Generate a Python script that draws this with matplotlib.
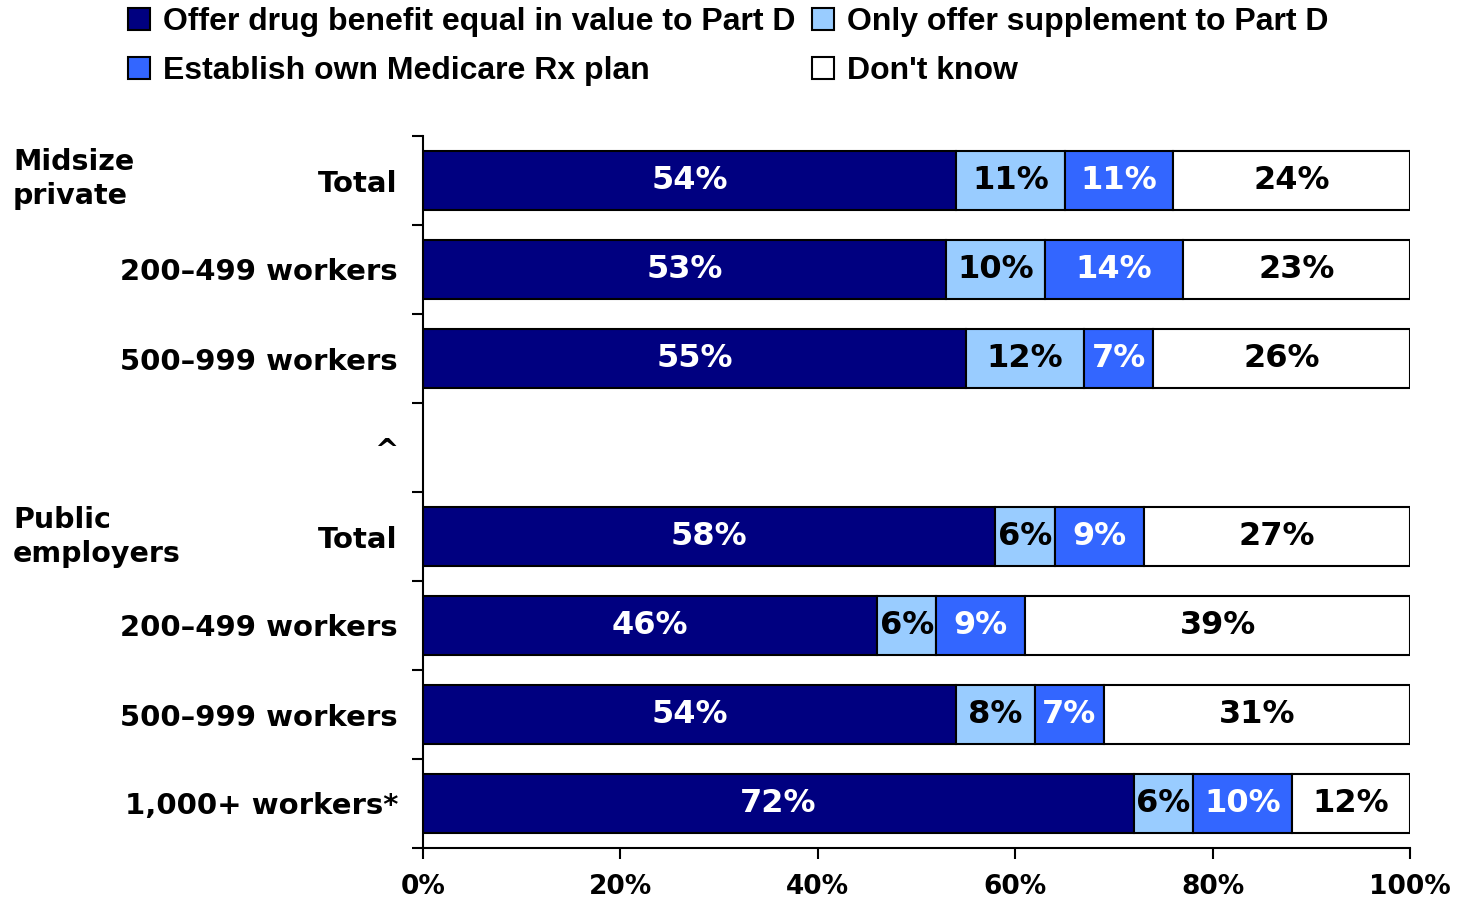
import matplotlib
matplotlib.use("Agg")
import matplotlib.pyplot as plt
from matplotlib.patches import Patch

# Row labels, top to bottom ("^" row carries no bar)
row_labels = ["Total", "200\u2013499 workers", "500\u2013999 workers", "^",
              "Total", "200\u2013499 workers", "500\u2013999 workers",
              "1,000+ workers*"]

offer_equal = [54, 53, 55, None, 58, 46, 54, 72]
supplement = [11, 10, 12, None, 6, 6, 8, 6]
own_plan = [11, 14, 7, None, 9, 9, 7, 10]
dont_know = [24, 23, 26, None, 27, 39, 31, 12]

series = [offer_equal, supplement, own_plan, dont_know]
series_names = ["Offer drug benefit equal in value to Part D",
                "Only offer supplement to Part D",
                "Establish own Medicare Rx plan",
                "Don't know"]
colors = ["#000080", "#99CCFF", "#3366FF", "#FFFFFF"]
text_colors = ["white", "black", "white", "black"]

x_ticks = [0, 20, 40, 60, 80, 100]

LABEL_FONT = "DejaVu Sans"

fig = plt.figure(figsize=(14.58, 9), dpi=100)
ax = fig.add_axes([423 / 1458, 1 - 848 / 900, (1410 - 423) / 1458, (848 - 136) / 900])

n = len(row_labels)
ypos = list(range(n))

for i, y in enumerate(ypos):
    if offer_equal[i] is None:
        continue
    left = 0
    for s, vals in enumerate(series):
        v = vals[i]
        ax.barh(y, v, left=left, height=0.67, color=colors[s],
                edgecolor="black", linewidth=1.5)
        ax.text(left + v / 2, y, f"{v}%", ha="center", va="center",
                color=text_colors[s], fontsize=23, fontweight="bold",
                family=LABEL_FONT)
        left += v

ax.set_xlim(0, 100)
ax.set_ylim(n - 0.5, -0.5)
ax.set_xticks(x_ticks)
ax.set_xticklabels([f"{t}%" for t in x_ticks], fontsize=19,
                   fontweight="bold", family=LABEL_FONT)
ax.tick_params(axis="x", length=8, width=1.5, direction="out", pad=11)

ax.set_yticks([i + 0.5 for i in range(-1, n)], minor=False)
ax.set_yticklabels([])
ax.tick_params(axis="y", length=8, width=1.5, direction="out")
ax.set_yticks(ypos, minor=True)
ax.set_yticklabels(row_labels, minor=True, fontsize=21,
                   fontweight="bold", family=LABEL_FONT)
ax.tick_params(axis="y", which="minor", length=0, pad=18)

for side in ["top", "right"]:
    ax.spines[side].set_visible(False)
ax.spines["left"].set_linewidth(1.5)
ax.spines["bottom"].set_linewidth(1.5)

# group labels
fig.text(13 / 1458, 1 - 179 / 900, "Midsize\nprivate", ha="left", va="center",
         fontsize=20.5, fontweight="bold", family=LABEL_FONT, linespacing=1.3)
fig.text(13 / 1458, 1 - 537 / 900, "Public\nemployers", ha="left", va="center",
         fontsize=20.5, fontweight="bold", family=LABEL_FONT, linespacing=1.3)

handles = [Patch(facecolor=c, edgecolor="black", linewidth=1.5) for c in colors]
order = [0, 2, 1, 3]
fig.legend([handles[k] for k in order], [series_names[k] for k in order],
           ncol=2, loc="upper left", bbox_to_anchor=(128 / 1458, 1 - 7 / 900),
           frameon=False, borderpad=0, borderaxespad=0,
           handlelength=0.7, handleheight=0.7,
           handletextpad=0.4, columnspacing=0.5, labelspacing=0.6,
           prop={"family": "Liberation Sans", "weight": "bold", "size": 23})

fig.savefig("out.png", dpi=100)
